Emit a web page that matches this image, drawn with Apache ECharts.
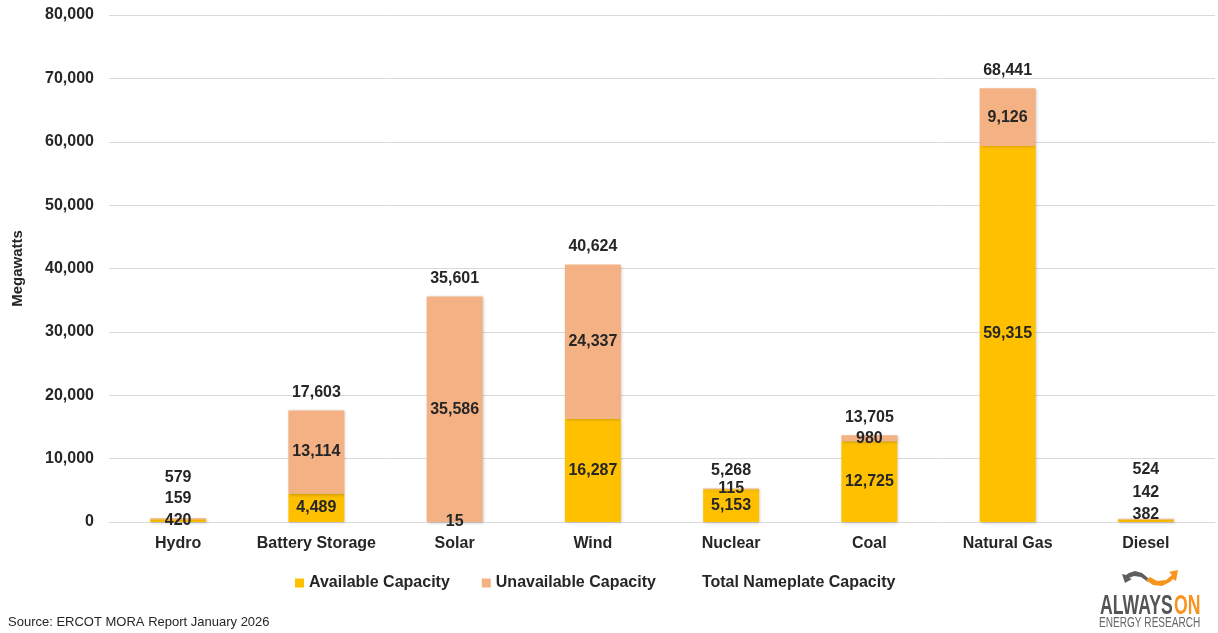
<!DOCTYPE html>
<html>
<head>
<meta charset="utf-8">
<title>ERCOT Capacity by Fuel Type</title>
<script src="https://cdn.jsdelivr.net/npm/echarts@6/dist/echarts.min.js"></script>
<style>
  html, body { margin: 0; padding: 0; background: #ffffff; }
  #chart { width: 1218px; height: 633px; }
</style>
</head>
<body>
<div id="chart"></div>
<script>
// Capacity by resource type (MW)
const categories = ['Hydro', 'Battery Storage', 'Solar', 'Wind', 'Nuclear', 'Coal', 'Natural Gas', 'Diesel'];
const availableCapacity = [420, 4489, 15, 16287, 5153, 12725, 59315, 382];
const unavailableCapacity = [159, 13114, 35586, 24337, 115, 980, 9126, 142];
const totalNameplate = [579, 17603, 35601, 40624, 5268, 13705, 68441, 524];

// Vertical nudges for labels on the very short bars, so they stack legibly
const availableLabelShift = [0, 0, 0, 0, 0, 0, 0, -6];
const unavailableLabelShift = [-20, 0, 0, 0, 0, 0, 0, -27];
const totalLabelShift = [-23, 0, 0, 0, 0, 0, 0, -31];

const FONT = '"Liberation Sans", Arial, sans-serif';
const TEXT = '#262626';
const fmt = v => Number(v).toLocaleString('en-US');

const labelBase = {
  show: true,
  color: TEXT,
  fontFamily: FONT,
  fontWeight: 'bold',
  fontSize: 16,
  formatter: p => fmt(p.value)
};

function withShift(values, shifts) {
  return values.map((v, i) => shifts[i] ? { value: v, label: { offset: [0, shifts[i]] } } : v);
}

const barShadow = {
  shadowBlur: 3,
  shadowColor: 'rgba(0,0,0,0.22)',
  shadowOffsetX: 1,
  shadowOffsetY: 1
};

const chart = echarts.init(document.getElementById('chart'), null, { renderer: 'canvas' });

chart.setOption({
  animation: false,
  backgroundColor: '#ffffff',
  textStyle: { fontFamily: FONT },
  grid: { left: 109, right: 3, top: 15, bottom: 111, containLabel: false, outerBoundsMode: 'none' },
  legend: {
    left: 295,
    top: 575,
    padding: 0,
    itemWidth: 9,
    itemHeight: 9,
    itemGap: 32,
    icon: 'rect',
    textStyle: { color: TEXT, fontFamily: FONT, fontWeight: 'bold', fontSize: 16 },
    itemStyle: { shadowBlur: 0, shadowOffsetX: 0, shadowOffsetY: 0 },
    data: ['Available Capacity', 'Unavailable Capacity', 'Total Nameplate Capacity']
  },
  xAxis: {
    type: 'category',
    data: categories,
    axisLine: { lineStyle: { color: '#D9D9D9', width: 1 } },
    axisTick: { show: false },
    axisLabel: { interval: 0, color: TEXT, fontFamily: FONT, fontWeight: 'bold', fontSize: 16, margin: 14 }
  },
  yAxis: {
    type: 'value',
    min: 0,
    max: 80000,
    interval: 10000,
    name: 'Megawatts',
    nameLocation: 'middle',
    nameRotate: 90,
    nameGap: 84,
    nameTextStyle: { color: TEXT, fontFamily: FONT, fontWeight: 'bold', fontSize: 15 },
    axisLine: { show: false },
    axisTick: { show: false },
    axisLabel: { color: TEXT, fontFamily: FONT, fontWeight: 'bold', fontSize: 16, margin: 15, formatter: v => fmt(v) },
    splitLine: { lineStyle: { color: '#D9D9D9', width: 1 } }
  },
  series: [
    {
      name: 'Available Capacity',
      type: 'bar',
      stack: 'capacity',
      barWidth: 56,
      barGap: '-100%',
      itemStyle: Object.assign({ color: '#FFC000' }, barShadow),
      label: Object.assign({ position: 'inside' }, labelBase),
      data: withShift(availableCapacity, availableLabelShift)
    },
    {
      name: 'Unavailable Capacity',
      type: 'bar',
      stack: 'capacity',
      barWidth: 56,
      itemStyle: Object.assign({ color: '#F4B183' }, barShadow),
      label: Object.assign({ position: 'inside' }, labelBase),
      data: withShift(unavailableCapacity, unavailableLabelShift)
    },
    {
      name: 'Total Nameplate Capacity',
      type: 'bar',
      barWidth: 56,
      barGap: '-100%',
      silent: true,
      itemStyle: { color: 'rgba(0,0,0,0)' },
      label: Object.assign({ position: 'top', distance: 10 }, labelBase),
      data: withShift(totalNameplate, totalLabelShift)
    }
  ],
  graphic: [
    {
      type: 'text',
      left: 8,
      top: 616,
      style: { text: 'Source: ERCOT MORA Report January 2026', fill: TEXT, font: '13px ' + FONT }
    },
    // AlwaysOn Energy Research mark: swoosh
    {
      type: 'group',
      left: 1122,
      top: 570,
      children: [
        {
          type: 'polygon',
          shape: { points: [[26, 12], [20, 7], [13, 5], [7, 7], [4, 9], [0, 8], [3, 17], [10, 13], [7, 12], [12, 10], [19, 11], [26, 16]] },
          style: { fill: '#5f5f5f' }
        },
        {
          type: 'polygon',
          shape: { points: [[24, 14], [31, 19], [40, 20], [48, 16], [51, 13], [54, 15], [56, 4], [47, 6], [50, 9], [44, 14], [35, 15], [28, 11]] },
          style: { fill: '#F7941D' }
        }
      ]
    },
    // AlwaysOn Energy Research mark: wordmark
    {
      type: 'group',
      left: 1099,
      top: 592,
      children: [
        {
          type: 'text',
          x: 1,
          y: 0,
          scaleX: 0.63,
          style: { text: 'ALWAYS', fill: '#555555', font: 'bold 28px ' + FONT }
        },
        {
          type: 'text',
          x: 75,
          y: 0,
          scaleX: 0.63,
          style: { text: 'ON', fill: '#F7941D', font: 'bold 28px ' + FONT }
        },
        {
          type: 'text',
          x: 0,
          y: 24,
          scaleX: 0.72,
          style: { text: 'ENERGY RESEARCH', fill: '#666666', font: '14px ' + FONT }
        }
      ]
    }
  ]
});
</script>
</body>
</html>
